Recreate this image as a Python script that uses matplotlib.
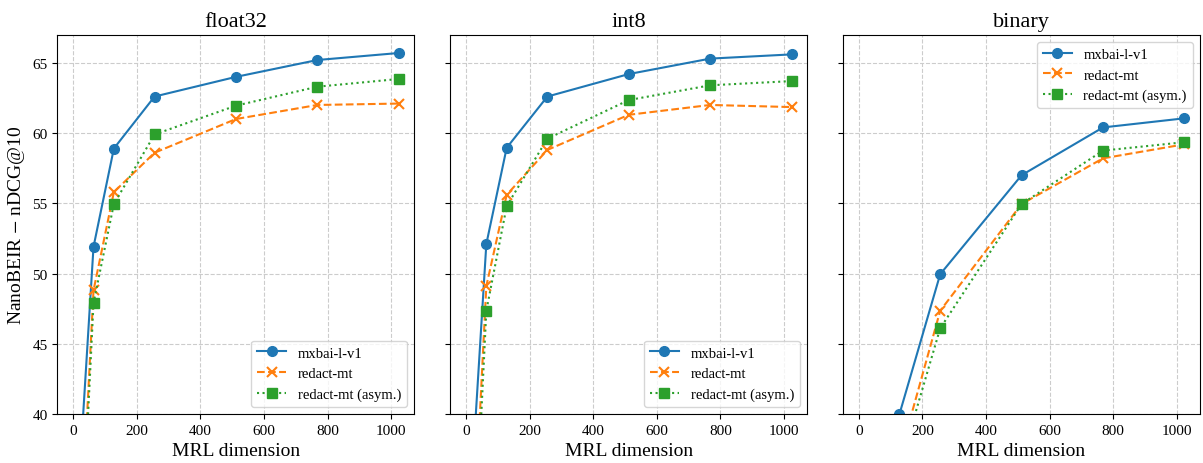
import matplotlib.pyplot as plt

plt.rcParams["font.family"] = ["Liberation Serif", "DejaVu Serif"]
plt.rcParams["mathtext.fontset"] = "stix"

dims = [16, 64, 128, 256, 512, 768, 1024]

# float32
f32_mxbai = [34.3, 51.9, 58.9, 62.6, 64.0, 65.2, 65.7]
f32_redact = [27.7, 48.8, 55.8, 58.6, 61.0, 62.0, 62.1]
f32_asym = [25.6, 47.9, 54.95, 59.9, 61.95, 63.3, 63.85]

# int8
i8_mxbai = [34.5, 52.1, 58.95, 62.6, 64.2, 65.3, 65.6]
i8_redact = [27.5, 49.1, 55.6, 58.8, 61.3, 62.0, 61.85]
i8_asym = [25.0, 47.35, 54.8, 59.6, 62.35, 63.4, 63.7]

# binary
bin_mxbai = [22.0, 30.0, 40.0, 49.95, 57.0, 60.4, 61.05]
bin_redact = [20.0, 27.0, 36.9, 47.35, 54.95, 58.2, 59.2]
bin_asym = [19.0, 26.0, 36.2, 46.1, 54.95, 58.75, 59.35]

titles = ["float32", "int8", "binary"]
panels = [
    (f32_mxbai, f32_redact, f32_asym),
    (i8_mxbai, i8_redact, i8_asym),
    (bin_mxbai, bin_redact, bin_asym),
]
legend_locs = ["lower right", "lower right", "upper right"]

fig, axes = plt.subplots(1, 3, figsize=(12.03, 4.64), dpi=100, sharey=True)
fig.subplots_adjust(left=0.0476, right=0.9975, top=0.923, bottom=0.1056, wspace=0.1)

for i, ax in enumerate(axes):
    mx, rd, asym = panels[i]
    ax.plot(dims, mx, "-o", color="#1f77b4", markersize=7, label="mxbai-l-v1")
    ax.plot(dims, rd, "--x", color="#ff7f0e", markersize=7, markeredgewidth=1.5, label="redact-mt")
    ax.plot(dims, asym, ":s", color="#2ca02c", markersize=7, label="redact-mt (asym.)")
    ax.set_title(titles[i], fontsize=16)
    ax.set_xlabel("MRL dimension", fontsize=14)
    ax.grid(True, linestyle="--", color="#cccccc")
    ax.set_xlim(-50, 1073)
    ax.set_ylim(40, 67)
    ax.set_xticks([0, 200, 400, 600, 800, 1000])
    ax.tick_params(labelsize=11)
    ax.legend(loc=legend_locs[i], fontsize=10.5)

axes[0].set_ylabel("NanoBEIR $-$ nDCG@10", fontsize=14)

plt.savefig("out.png")
